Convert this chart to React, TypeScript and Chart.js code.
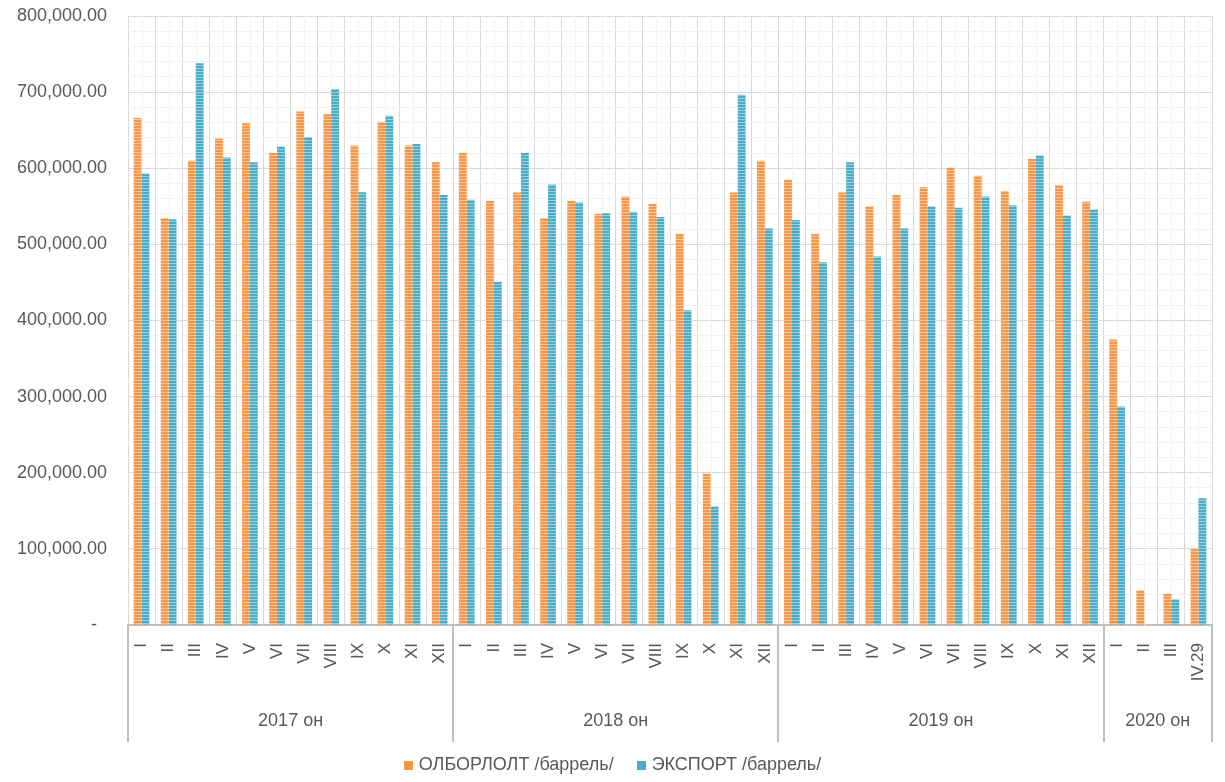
import React, { useEffect, useRef } from "react";
import { Chart, registerables } from "chart.js";

Chart.register(...registerables);

const MONTHS_FULL = ["I", "II", "III", "IV", "V", "VI", "VII", "VIII", "IX", "X", "XI", "XII"];
const MONTHS_2020 = ["I", "II", "III", "IV.29"];
const YEAR_GROUPS = ["2017 он", "2018 он", "2019 он", "2020 он"];
const GROUP_SIZES = [12, 12, 12, 4];

const CATEGORIES = [...MONTHS_FULL, ...MONTHS_FULL, ...MONTHS_FULL, ...MONTHS_2020];

const SERIES_NAMES = ["ОЛБОРЛОЛТ /баррель/", "ЭКСПОРТ /баррель/"];

const PRODUCTION = [
  666000, 534500, 610000, 639000, 659000, 620000, 674500, 671000, 630000, 661000, 630000, 608000,
  620000, 557000, 568000, 534500, 557000, 540000, 563000, 553000, 514000, 199000, 568000, 610000,
  585000, 514000, 568000, 550000, 565000, 575000, 601000, 590000, 570000, 612000, 578000, 556000,
  375000, 45600, 41000, 100000,
];

const EXPORT = [
  593000, 533000, 738000, 614000, 608000, 628500, 641000, 704000, 568500, 669000, 632000, 565000,
  558500, 451000, 620000, 578500, 555000, 541000, 543000, 536000, 413500, 156000, 696500, 521000,
  532000, 476500, 608000, 484000, 521000, 550000, 548000, 563000, 551500, 617000, 538000, 546000,
  287000, null, 33800, 166500,
];

const Y_MAX = 800000;
const Y_STEP_MINOR = 20000;
const Y_STEP_MAJOR = 100000;

const FONT = "'Liberation Sans', Arial, sans-serif";
const TEXT_COLOR = "#595959";
const ORANGE = "#F79646";
const ORANGE_STRIPE = "#FCC79C";
const BLUE = "#4BACC6";
const BLUE_STRIPE = "#9AD1E0";

function makePattern(base: string, stripe: string): CanvasPattern | string {
  const c = document.createElement("canvas");
  c.width = 4;
  c.height = 3;
  const g = c.getContext("2d");
  if (!g) return base;
  g.fillStyle = base;
  g.fillRect(0, 0, 4, 3);
  g.fillStyle = stripe;
  g.fillRect(0, 2, 4, 1);
  const p = g.createPattern(c, "repeat");
  return p || base;
}

const axisLabelsPlugin = {
  id: "axisLabels",
  beforeDatasetsDraw(chart: any) {
    const { ctx, chartArea } = chart;
    const xs = chart.scales.x;
    ctx.save();
    ctx.strokeStyle = "#f2f2f2";
    ctx.lineWidth = 1;
    for (let i = 0; i < CATEGORIES.length; i++) {
      const x = Math.round(xs.getPixelForValue(i)) + 0.5;
      ctx.beginPath();
      ctx.moveTo(x, chartArea.top);
      ctx.lineTo(x, chartArea.bottom);
      ctx.stroke();
    }
    ctx.restore();
  },
  afterDraw(chart: any) {
    const { ctx, chartArea } = chart;
    const xs = chart.scales.x;
    const axisY = chartArea.bottom;
    ctx.save();
    ctx.fillStyle = TEXT_COLOR;
    ctx.font = `17px ${FONT}`;
    ctx.textAlign = "right";
    ctx.textBaseline = "middle";
    for (let i = 0; i < CATEGORIES.length; i++) {
      const x = xs.getPixelForValue(i);
      ctx.save();
      ctx.translate(x, axisY + 18);
      ctx.rotate(-Math.PI / 2);
      ctx.fillText(CATEGORIES[i], 0, 0);
      ctx.restore();
    }
    const half = (xs.getPixelForValue(1) - xs.getPixelForValue(0)) / 2;
    let start = 0;
    const bounds: number[] = [chartArea.left];
    for (let g = 0; g < GROUP_SIZES.length; g++) {
      const end = start + GROUP_SIZES[g] - 1;
      const right = g === GROUP_SIZES.length - 1 ? chartArea.right : xs.getPixelForValue(end) + half;
      bounds.push(right);
      start = end + 1;
    }
    ctx.strokeStyle = "#bfbfbf";
    ctx.lineWidth = 2;
    for (const b of bounds) {
      ctx.beginPath();
      ctx.moveTo(Math.round(b), axisY);
      ctx.lineTo(Math.round(b), axisY + 117);
      ctx.stroke();
    }
    ctx.font = `18px ${FONT}`;
    ctx.textAlign = "center";
    ctx.textBaseline = "middle";
    for (let g = 0; g < YEAR_GROUPS.length; g++) {
      const cx = (bounds[g] + bounds[g + 1]) / 2;
      ctx.fillText(YEAR_GROUPS[g], cx, axisY + 96);
    }
    const colors = [ORANGE, BLUE];
    ctx.font = `18px ${FONT}`;
    const box = 9;
    const gapBoxText = 6;
    const gapItems = 23;
    const widths = SERIES_NAMES.map((t) => box + gapBoxText + ctx.measureText(t).width);
    const total = widths.reduce((a, b) => a + b, 0) + gapItems * (widths.length - 1);
    let lx = chart.width / 2 - total / 2;
    const ly = 765;
    ctx.textAlign = "left";
    for (let k = 0; k < SERIES_NAMES.length; k++) {
      ctx.fillStyle = colors[k];
      ctx.fillRect(Math.round(lx), ly - 4, box, box);
      ctx.fillStyle = TEXT_COLOR;
      ctx.fillText(SERIES_NAMES[k], lx + box + gapBoxText, ly);
      lx += widths[k] + gapItems;
    }
    ctx.restore();
  },
};

function formatTick(v: number): string {
  if (v === 0) return "-  ";
  if (v % Y_STEP_MAJOR !== 0) return "";
  return v.toLocaleString("en-US", { minimumFractionDigits: 2, maximumFractionDigits: 2 });
}

export default function App() {
  const ref = useRef<HTMLCanvasElement | null>(null);

  useEffect(() => {
    const canvas = ref.current;
    if (!canvas) return;
    const chart = new Chart(canvas, {
      type: "bar",
      data: {
        labels: CATEGORIES,
        datasets: [
          {
            label: SERIES_NAMES[0],
            data: PRODUCTION,
            backgroundColor: makePattern(ORANGE, ORANGE_STRIPE) as any,
            borderWidth: 0,
            categoryPercentage: 0.58,
            barPercentage: 1,
          },
          {
            label: SERIES_NAMES[1],
            data: EXPORT,
            backgroundColor: makePattern(BLUE, BLUE_STRIPE) as any,
            borderWidth: 0,
            categoryPercentage: 0.58,
            barPercentage: 1,
          },
        ],
      },
      options: {
        animation: false,
        responsive: true,
        maintainAspectRatio: false,
        layout: { padding: { top: 16, right: 13, bottom: 40, left: 0 } },
        plugins: {
          legend: { display: false },
          tooltip: { enabled: false },
        },
        scales: {
          x: {
            offset: true,
            grid: { offset: true, color: "#d9d9d9", lineWidth: 1, drawTicks: false },
            border: { display: true, color: "#bfbfbf", width: 2 },
            ticks: { display: false },
            afterFit: (s: any) => {
              s.height = 117;
              s.paddingLeft = 0;
              s.paddingRight = 0;
            },
          },
          y: {
            min: 0,
            max: Y_MAX,
            grid: {
              drawTicks: false,
              color: (c: any) => (c.tick && c.tick.value % Y_STEP_MAJOR === 0 ? "#d9d9d9" : "#f2f2f2"),
              lineWidth: 1,
            },
            border: { display: false },
            ticks: {
              stepSize: Y_STEP_MINOR,
              autoSkip: false,
              padding: 21,
              color: TEXT_COLOR,
              font: { family: FONT, size: 18 },
              callback: (v: any) => formatTick(Number(v)),
            },
            afterFit: (s: any) => {
              s.width = 128;
              s.paddingTop = 0;
              s.paddingBottom = 0;
            },
          },
        },
      },
      plugins: [axisLabelsPlugin],
    });
    return () => chart.destroy();
  }, []);

  return (
    <div style={{ position: "absolute", left: 0, top: 0, width: 1225, height: 782, background: "#fff" }}>
      <canvas ref={ref} />
    </div>
  );
}
